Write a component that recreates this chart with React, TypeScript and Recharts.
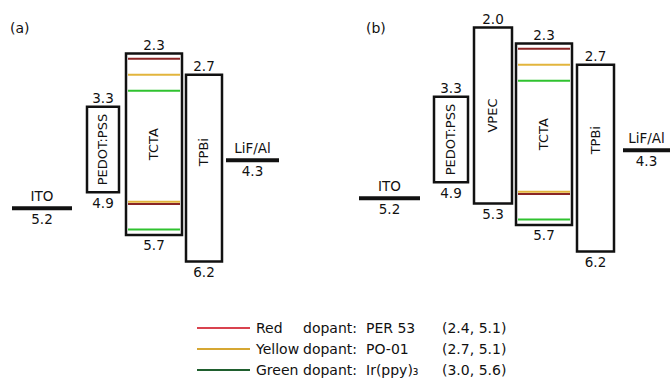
import React from "react";
import { ComposedChart, XAxis, YAxis, ReferenceArea, ReferenceLine, Label } from "recharts";

// energy levels in eV (plotted downwards, deeper = lower)
const electrodeNames = ["ITO", "LiF/Al"];
const electrodeLevels = [5.2, 4.3];

const layerNamesA = ["PEDOT:PSS", "TCTA", "TPBi"];
const lumoA = [3.3, 2.3, 2.7];
const homoA = [4.9, 5.7, 6.2];

const layerNamesB = ["PEDOT:PSS", "VPEC", "TCTA", "TPBi"];
const lumoB = [3.3, 2.0, 2.3, 2.7];
const homoB = [4.9, 5.3, 5.7, 6.2];

const dopantNames = ["Red", "Yellow", "Green"];
const dopantMaterials = ["PER 53", "PO-01", "Ir(ppy)₃"];
const dopantLumo = [2.4, 2.7, 3.0];
const dopantHomo = [5.1, 5.1, 5.6];
const hostLayer = "TCTA";

const FONT = "'DejaVu Sans', sans-serif";
const INK = "#111";
const PANEL_W = 335;
const PANEL_H = 292;
const dopantLineColors = ["#8b2525", "#e2b53c", "#2fc22f"];
const dopantKeyColors = ["#d9434f", "#d6a733", "#1f5f2e"];
const dopantNudge = [1.2, -1.2, 0]; // red & yellow share 5.1 eV

type Panel = {
  tag: string;
  left: number;
  names: string[];
  lumo: number[];
  homo: number[];
  domain: [number, number];
  slots: Record<string, [number, number]>;
  nameShift: Record<string, number>;
};

const panels: Panel[] = [
  {
    tag: "(a)",
    left: 0,
    names: layerNamesA,
    lumo: lumoA,
    homo: homoA,
    domain: [69.2 / 53.35, (PANEL_H + 69.2) / 53.35],
    slots: {
      ITO: [12, 72],
      "PEDOT:PSS": [87, 119],
      TCTA: [126, 182],
      TPBi: [186, 222],
      "LiF/Al": [226, 279],
    },
    nameShift: { TPBi: -16 },
  },
  {
    tag: "(b)",
    left: 335,
    names: layerNamesB,
    lumo: lumoB,
    homo: homoB,
    domain: [79.2 / 53.35, (PANEL_H + 79.2) / 53.35],
    slots: {
      ITO: [359, 420],
      "PEDOT:PSS": [434, 468],
      VPEC: [474, 512],
      TCTA: [516, 572],
      TPBi: [577, 614],
      "LiF/Al": [623, 670],
    },
    nameShift: { TPBi: -18 },
  },
];

const valueLabel = { fill: INK, fontSize: 13.5 };

function verticalName(text: string, shift: number) {
  return (props: any) => {
    const vb = props.viewBox || {};
    const cx = vb.x + vb.width / 2;
    const cy = vb.y + vb.height / 2 + shift;
    return (
      <text
        x={cx}
        y={cy}
        transform={`rotate(-90 ${cx} ${cy})`}
        textAnchor="middle"
        dominantBaseline="central"
        fill={INK}
        fontSize={13}
      >
        {text}
      </text>
    );
  };
}

function dopantShape(color: string, nudge: number) {
  return (p: any) => (
    <line
      x1={p.x1}
      y1={p.y1 + nudge}
      x2={p.x2}
      y2={p.y2 + nudge}
      stroke={color}
      strokeWidth={2}
    />
  );
}

function BandDiagram({ panel }: { panel: Panel }) {
  const rows = panel.names.map((name, i) => ({
    name,
    x: (panel.slots[name][0] + panel.slots[name][1]) / 2,
    lumo: panel.lumo[i],
    homo: panel.homo[i],
  }));
  const host = panel.slots[hostLayer];

  return (
    <ComposedChart
      width={PANEL_W}
      height={PANEL_H}
      data={rows}
      margin={{ top: 0, right: 0, bottom: 0, left: 0 }}
    >
      <XAxis type="number" dataKey="x" domain={[panel.left, panel.left + PANEL_W]} allowDataOverflow hide />
      <YAxis type="number" domain={panel.domain} reversed allowDataOverflow hide />

      {electrodeNames.map((name, i) => (
        <ReferenceLine
          key={name}
          segment={[
            { x: panel.slots[name][0], y: electrodeLevels[i] },
            { x: panel.slots[name][1], y: electrodeLevels[i] },
          ]}
          stroke="#111"
          strokeWidth={4}
          ifOverflow="visible"
        >
          <Label value={name} position="top" offset={7} {...valueLabel} />
          <Label value={electrodeLevels[i].toFixed(1)} position="bottom" offset={6} {...valueLabel} />
        </ReferenceLine>
      ))}

      {rows.map((r) => (
        <ReferenceArea
          key={r.name}
          x1={panel.slots[r.name][0]}
          x2={panel.slots[r.name][1]}
          y1={r.lumo}
          y2={r.homo}
          fill="#fff"
          fillOpacity={1}
          stroke="#111"
          strokeWidth={2.5}
          ifOverflow="visible"
        >
          <Label value={r.lumo.toFixed(1)} position="top" offset={4} {...valueLabel} />
          <Label value={r.homo.toFixed(1)} position="bottom" offset={6} {...valueLabel} />
          <Label content={verticalName(r.name, panel.nameShift[r.name] || 0)} />
        </ReferenceArea>
      ))}

      {dopantNames.map((d, i) =>
        [dopantLumo[i], dopantHomo[i]].map((lvl, k) => (
          <ReferenceLine
            key={`${d}-${k}`}
            segment={[
              { x: host[0] + 2, y: lvl },
              { x: host[1] - 2, y: lvl },
            ]}
            ifOverflow="visible"
            shape={dopantShape(dopantLineColors[i], k === 1 ? dopantNudge[i] : 0)}
          />
        ))
      )}
    </ComposedChart>
  );
}

function DopantKey() {
  const rowY = [328, 349, 370];
  return (
    <svg width={670} height={378} style={{ position: "absolute", left: 0, top: 0, pointerEvents: "none" }}>
      {dopantNames.map((d, i) => (
        <g key={d} fontSize={14} fill={INK}>
          <line x1={197} x2={250} y1={rowY[i]} y2={rowY[i]} stroke={dopantKeyColors[i]} strokeWidth={2} />
          <text x={256} y={rowY[i]} dominantBaseline="central">{d}</text>
          <text x={357} y={rowY[i]} textAnchor="end" dominantBaseline="central">dopant:</text>
          <text x={366} y={rowY[i]} dominantBaseline="central">{dopantMaterials[i]}</text>
          <text x={442} y={rowY[i]} dominantBaseline="central">
            {`(${dopantLumo[i].toFixed(1)}, ${dopantHomo[i].toFixed(1)})`}
          </text>
        </g>
      ))}
    </svg>
  );
}

export default function App() {
  return (
    <div
      style={{
        position: "absolute",
        left: 0,
        top: 0,
        width: 670,
        height: 378,
        background: "#fff",
        fontFamily: FONT,
        color: INK,
        overflow: "hidden",
      }}
    >
      {panels.map((p) => (
        <div key={p.tag} style={{ position: "absolute", left: p.left, top: 0 }}>
          <BandDiagram panel={p} />
          <span
            style={{
              position: "absolute",
              left: p.tag === "(a)" ? 10 : 31,
              top: 19,
              fontSize: 14,
              lineHeight: "18px",
            }}
          >
            {p.tag}
          </span>
        </div>
      ))}
      <DopantKey />
    </div>
  );
}
